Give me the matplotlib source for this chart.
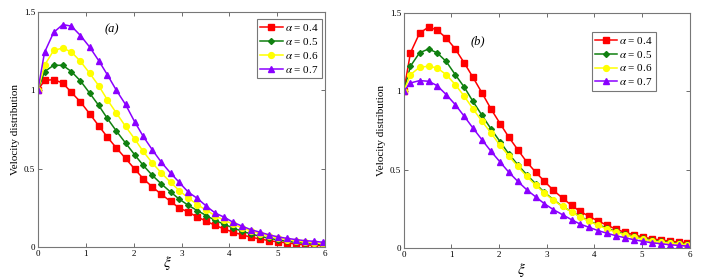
import matplotlib.pyplot as plt
from matplotlib.ticker import FormatStrFormatter

plt.rcParams['font.family'] = ['Liberation Serif', 'DejaVu Serif']
plt.rcParams['mathtext.fontset'] = 'stix'

xi = [0, 0.14, 0.33, 0.52, 0.70, 0.89, 1.08, 1.27, 1.45, 1.64, 1.83, 2.02, 2.20,
      2.39, 2.58, 2.77, 2.95, 3.14, 3.33, 3.52, 3.70, 3.89, 4.08, 4.27, 4.45,
      4.64, 4.83, 5.02, 5.20, 5.39, 5.58, 5.77, 5.95]

alphas = ["0.4", "0.5", "0.6", "0.7"]

# panel (a)
a_04 = [1.0, 1.064, 1.068, 1.047, 0.987, 0.926, 0.851, 0.774, 0.702, 0.632, 0.566,
        0.498, 0.436, 0.383, 0.336, 0.291, 0.249, 0.223, 0.191, 0.164, 0.138, 0.115,
        0.094, 0.077, 0.062, 0.051, 0.040, 0.032, 0.026, 0.019, 0.013, 0.011, 0.009]
a_05 = [1.0, 1.12, 1.16, 1.16, 1.12, 1.06, 0.983, 0.904, 0.821, 0.740, 0.664,
        0.589, 0.521, 0.457, 0.402, 0.351, 0.306, 0.266, 0.232, 0.200, 0.170, 0.145,
        0.121, 0.100, 0.083, 0.068, 0.055, 0.045, 0.036, 0.030, 0.023, 0.019, 0.015]
a_06 = [1.0, 1.16, 1.255, 1.27, 1.245, 1.185, 1.11, 1.03, 0.94, 0.855, 0.77,
        0.69, 0.61, 0.536, 0.472, 0.413, 0.36, 0.313, 0.27, 0.234, 0.20, 0.17,
        0.145, 0.121, 0.102, 0.085, 0.07, 0.057, 0.047, 0.038, 0.032, 0.026, 0.021]
a_07 = [1.0, 1.243, 1.37, 1.42, 1.41, 1.35, 1.277, 1.19, 1.10, 1.0, 0.91,
        0.80, 0.706, 0.62, 0.54, 0.472, 0.413, 0.35, 0.31, 0.26, 0.217, 0.19,
        0.157, 0.132, 0.11, 0.094, 0.077, 0.064, 0.055, 0.047, 0.04, 0.036, 0.03]

# panel (b)
b_04 = [1.0, 1.245, 1.37, 1.41, 1.39, 1.34, 1.27, 1.18, 1.09, 0.99, 0.887,
        0.794, 0.709, 0.628, 0.549, 0.483, 0.426, 0.368, 0.319, 0.272, 0.234, 0.202,
        0.172, 0.145, 0.121, 0.10, 0.085, 0.07, 0.06, 0.051, 0.045, 0.038, 0.034]
b_05 = [1.0, 1.16, 1.245, 1.27, 1.245, 1.19, 1.106, 1.026, 0.936, 0.847, 0.76,
        0.679, 0.602, 0.532, 0.468, 0.409, 0.355, 0.309, 0.266, 0.232, 0.202, 0.172,
        0.149, 0.126, 0.106, 0.089, 0.074, 0.062, 0.051, 0.043, 0.036, 0.03, 0.026]
b_06 = [1.0, 1.106, 1.153, 1.16, 1.149, 1.106, 1.043, 0.968, 0.889, 0.809, 0.734,
        0.655, 0.589, 0.521, 0.457, 0.40, 0.351, 0.304, 0.266, 0.23, 0.198, 0.17,
        0.145, 0.121, 0.102, 0.085, 0.07, 0.057, 0.047, 0.038, 0.032, 0.026, 0.021]
b_07 = [1.0, 1.053, 1.068, 1.064, 1.036, 0.979, 0.915, 0.84, 0.766, 0.691, 0.617,
        0.549, 0.485, 0.426, 0.372, 0.326, 0.283, 0.245, 0.213, 0.181, 0.153, 0.132,
        0.111, 0.094, 0.079, 0.066, 0.053, 0.043, 0.034, 0.028, 0.021, 0.017, 0.013]

colors = ["#ff0000", "#108010", "#ffff00", "#8a00ff"]
markers = ["s", "D", "o", "^"]
msizes = [4.2, 3.0, 4.2, 4.2]

fig = plt.figure(figsize=(7.01, 2.8), dpi=100)
ax1 = fig.add_axes([0.054, 0.118, 0.41, 0.839])
ax2 = fig.add_axes([0.576, 0.114, 0.408, 0.840])

panels = [
    (ax1, [a_04, a_05, a_06, a_07], "(a)", (1.4, 1.37), (1.0, 0.985), (0.45, -0.03)),
    (ax2, [b_04, b_05, b_06, b_07], "(b)", (1.4, 1.30), (0.895, 0.935), (0.41, -0.055)),
]

for ax, series, tag, tagpos, legpos, xlpos in panels:
    for ys, c, m, ms, a in zip(series, colors, markers, msizes, alphas):
        ax.plot(xi, ys, color=c, marker=m, markersize=ms, linewidth=1.1,
                label=r"$\alpha$ = " + a)
    ax.set_xlim(0, 6)
    ax.set_ylim(0, 1.5)
    ax.set_xticks(range(7))
    ax.set_yticks([0, 0.5, 1, 1.5])
    ax.yaxis.set_major_formatter(FormatStrFormatter('%g'))
    ax.tick_params(direction='in', top=True, right=True, labelsize=6.5,
                   length=3, width=0.6, color='#555555', pad=2)
    for sp in ax.spines.values():
        sp.set_color('#777777')
        sp.set_linewidth(0.8)
    ax.set_xlabel(r"$\xi$", fontsize=11)
    ax.xaxis.set_label_coords(*xlpos)
    ax.set_ylabel("Velocity distribution", fontsize=8, labelpad=3)
    ax.text(tagpos[0], tagpos[1], tag, fontsize=9, style='italic')
    leg = ax.legend(loc='upper right', bbox_to_anchor=legpos, fontsize=8,
                    frameon=True, fancybox=False, handlelength=2.0,
                    handletextpad=0.2, borderpad=0.3, labelspacing=0.25,
                    borderaxespad=0.3)
    leg.get_frame().set_edgecolor('#555555')
    leg.get_frame().set_linewidth(0.8)

fig.savefig("out.png", dpi=100)
